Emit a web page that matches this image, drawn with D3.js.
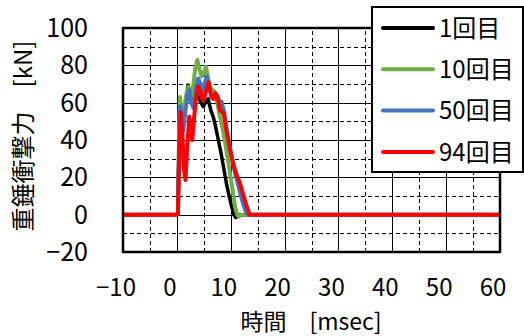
<!DOCTYPE HTML>
<html lang="ja">
<head>
<meta charset="utf-8">
<title>重錘衝撃力</title>
<style>
html, body { margin: 0; padding: 0; background: #fff; }
svg { display: block; }
text { font-family: "Noto Sans CJK JP", "Noto Sans", sans-serif; fill: #000; }
.grid line { stroke: #000; stroke-width: 1; shape-rendering: crispEdges; }
.grid .minor line { stroke-dasharray: 4,3; }
.grid path { display: none; }
</style>
</head>
<body>
<svg id="chart" width="524" height="336"></svg>

<script src="https://cdnjs.cloudflare.com/ajax/libs/d3/7.8.5/d3.min.js"></script>
<script>
(function() {
'use strict';

// data
const seriesNames = ['1回目', '10回目', '50回目', '94回目'];
const seriesColors = ['#000000', '#70ad47', '#4472c4', '#ff0000'];

const t1  = [-10, 0, 0.2, 0.4, 0.6, 0.9, 1.2, 1.6, 2.1, 2.4, 2.7, 3.1, 3.6, 4.1, 4.5, 4.9, 5.3, 5.8, 6.3, 6.8, 7.2, 7.7, 8.2, 8.7, 9.2, 9.7, 10.2, 10.6, 10.9, 11.3, 11.8, 60];
const v1  = [0, 0, 0.5, 35, 60, 56, 50, 60, 69.5, 64, 60, 64, 66, 62, 60, 57.9, 60, 62, 56, 52, 47, 40, 33, 25, 16.8, 10, 4, 0, -1.5, -1, 0, 0];

const t10 = [-10, 0, 0.2, 0.4, 0.55, 0.8, 1.05, 1.4, 1.8, 2.2, 2.45, 2.7, 3.0, 3.4, 3.8, 4.2, 4.6, 5.0, 5.4, 5.8, 6.1, 6.5, 7.0, 7.5, 8.0, 8.5, 8.9, 9.5, 10.2, 10.8, 11.2, 11.5, 12.0, 60];
const v10 = [0, 0, 0.5, 40, 63, 58, 50.7, 58, 65, 68.6, 63, 59.6, 68, 78, 82.9, 78, 74, 76, 79.3, 73, 68.6, 67, 66, 60, 52.5, 46, 40, 29, 16, 4.3, 0, -1, 0, 0];

const t50 = [-10, 0, 0.2, 0.4, 0.6, 0.9, 1.2, 1.6, 2.0, 2.3, 2.7, 3.1, 3.5, 3.95, 4.4, 4.8, 5.2, 5.6, 6.0, 6.4, 6.9, 7.4, 7.9, 8.3, 8.7, 9.3, 9.9, 10.5, 11.2, 11.8, 12.4, 12.9, 13.2, 60];
const v50 = [0, 0, 0.5, 35, 58, 52, 45, 56, 64, 67, 60, 57, 66, 73, 70, 66, 71, 74, 68, 64, 64, 62, 61, 60.5, 56, 45, 35, 26, 18, 11, 5, 1, 0, 0];

const t94 = [-10, 0, 0.2, 0.4, 0.7, 1.0, 1.3, 1.6, 1.9, 2.3, 2.6, 2.85, 3.2, 3.6, 3.95, 4.3, 4.7, 5.0, 5.4, 5.9, 6.4, 6.8, 7.2, 7.6, 8.0, 8.4, 8.7, 9.2, 9.8, 10.4, 11.0, 11.7, 12.3, 12.8, 13.2, 13.5, 60];
const v94 = [0, 0, 0.5, 30, 55, 45, 25, 18.6, 35, 52.5, 47, 40, 52, 63, 68.6, 67, 62, 61.4, 66, 71, 63, 62, 65, 63, 56, 55, 54.4, 45, 36, 28, 22, 17, 11, 6, 2.5, 0, 0];

const xTicks = [-10, 0, 10, 20, 30, 40, 50, 60];
const yTicks = [-20, 0, 20, 40, 60, 80, 100];
const xMinor = [-5, 5, 15, 25, 35, 45, 55];
const yMinor = [-10, 10, 30, 50, 70, 90];

const times = [t1, t10, t50, t94];
const values = [v1, v10, v50, v94];

// layout
const left = 123, top = 28, right = 500, bottom = 252;

const svg = d3.select('#chart');

const x = d3.scaleLinear().domain([-10, 60]).range([left, right]);
const y = d3.scaleLinear().domain([-20, 100]).range([bottom, top]);

// grid lines
const grid = svg.append('g').attr('class', 'grid');
grid.append('g').attr('class', 'minor')
  .attr('transform', 'translate(0,' + bottom + ')')
  .call(d3.axisBottom(x).tickValues(xMinor).tickSize(-(bottom - top)).tickFormat(''));
grid.append('g').attr('class', 'minor')
  .attr('transform', 'translate(' + left + ',0)')
  .call(d3.axisLeft(y).tickValues(yMinor).tickSize(-(right - left)).tickFormat(''));
grid.append('g')
  .attr('transform', 'translate(0,' + bottom + ')')
  .call(d3.axisBottom(x).tickValues(xTicks).tickSize(-(bottom - top)).tickFormat(''));
grid.append('g')
  .attr('transform', 'translate(' + left + ',0)')
  .call(d3.axisLeft(y).tickValues(yTicks).tickSize(-(right - left)).tickFormat(''));

// tick labels
svg.append('g').selectAll('text')
  .data(yTicks).enter().append('text')
  .attr('x', 88)
  .attr('y', d => y(d))
  .attr('dy', '0.36em')
  .attr('text-anchor', 'end')
  .style('font-size', '25px')
  .text(d => d < 0 ? '\u2212' + Math.abs(d) : d);

svg.append('g').selectAll('text')
  .data(xTicks).enter().append('text')
  .attr('x', d => x(d) - 7)
  .attr('y', 287)
  .attr('dy', '0.36em')
  .attr('text-anchor', 'middle')
  .style('font-size', '24px')
  .text(d => d < 0 ? '\u2212' + Math.abs(d) : d);

// axis titles
svg.append('text')
  .attr('transform', 'translate(23,136) rotate(-90)')
  .attr('text-anchor', 'middle')
  .attr('dy', '0.36em')
  .style('font-size', '24px')
  .text('重錘衝撃力\u3000[kN]');

svg.append('text')
  .attr('x', 311)
  .attr('y', 329.5)
  .attr('text-anchor', 'middle')
  .style('font-size', '23px')
  .text('時間\u3000[msec]');

// curves
svg.append('clipPath').attr('id', 'plotclip')
  .append('rect')
  .attr('x', left).attr('y', top)
  .attr('width', right - left).attr('height', bottom - top);

const line = d3.line()
  .x(d => x(d[0]))
  .y(d => y(d[1]));

const curves = svg.append('g').attr('clip-path', 'url(#plotclip)');
seriesNames.forEach(function(name, i) {
  const pts = times[i].map((t, j) => [t, values[i][j]]);
  curves.append('path')
    .datum(pts)
    .attr('fill', 'none')
    .attr('stroke', seriesColors[i])
    .attr('stroke-width', i === 0 ? 3.5 : 4)
    .attr('stroke-linejoin', 'round')
    .attr('d', line);
});

// plot frame
svg.append('rect')
  .attr('x', left).attr('y', top)
  .attr('width', right - left).attr('height', bottom - top)
  .attr('fill', 'none')
  .attr('stroke', '#000')
  .attr('stroke-width', 2.5);

// legend
const legend = svg.append('g');
legend.append('rect')
  .attr('x', 372).attr('y', 7)
  .attr('width', 151).attr('height', 165)
  .attr('fill', '#fff')
  .attr('stroke', '#000')
  .attr('stroke-width', 2);

const rows = legend.selectAll('g.row')
  .data(seriesNames).enter().append('g')
  .attr('class', 'row')
  .attr('transform', (d, i) => 'translate(0,' + (28 + i * 41.3) + ')');
rows.append('line')
  .attr('x1', 383).attr('x2', 433)
  .attr('stroke', (d, i) => seriesColors[i])
  .attr('stroke-width', 4)
  .attr('stroke-linecap', 'round');
rows.append('text')
  .attr('x', 439)
  .attr('dy', '0.36em')
  .style('font-size', '24px')
  .text(d => d);

}());
</script>
</body>
</html>
